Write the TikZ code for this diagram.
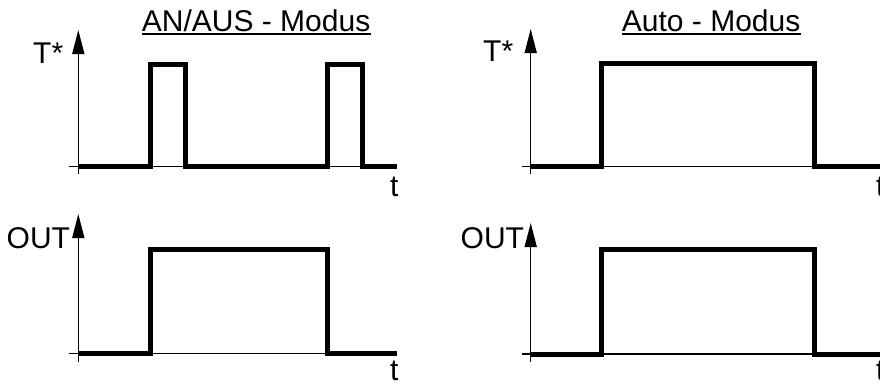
\documentclass[tikz,border=0pt]{standalone}
\usepackage{fontspec}
\setmainfont{Liberation Sans}
\usetikzlibrary{arrows.meta}
\begin{document}
\begin{tikzpicture}[x=1pt,y=-1pt,
  axis/.style={line width=1.5pt},
  yaxis/.style={line width=1.5pt,-{Triangle[length=24pt,width=12pt]}},
  signal/.style={line width=5pt,line join=miter},
  lbl/.style={inner sep=0pt,anchor=base west,font=\fontsize{30}{36}\selectfont},
  uline/.style={line width=2pt}
]
\useasboundingbox (0,0) rectangle (880,383);
% titles
\node[lbl] (ti1) at (141.7,31.7) {AN/AUS - Modus};
\draw[uline] ([yshift=-2pt]ti1.base west) -- ([yshift=-2pt]ti1.base east);
\node[lbl] (ti2) at (621.7,31.7) {Auto - Modus};
\draw[uline] ([yshift=-2pt]ti2.base west) -- ([yshift=-2pt]ti2.base east);

% top-left
\draw[axis] (69.3,166.7) -- (397,166.7);
\draw[yaxis] (78.3,174) -- (78.3,30);
\draw[signal] (78.3,166.3) -- (150,166.3) -- (150,64.5) -- (185,64.5) -- (185,166.3) -- (327.5,166.3) -- (327.5,64.5) -- (362.5,64.5) -- (362.5,166.3) -- (397,166.3);
\node[lbl] (la) at (33,63.3) {T*};
\node[lbl] (ta) at (390,196) {t};

% top-right
\draw[axis] (521.7,166.7) -- (880,166.7);
\draw[yaxis] (530.7,174) -- (530.7,29);
\draw[signal] (530.7,166.3) -- (601.5,166.3) -- (601.5,63.5) -- (814,63.5) -- (814,166.3) -- (885,166.3);
\node[lbl] (lb) at (483,61) {T*};
\node[lbl] (tb) at (876,196) {t};

% bottom-left
\draw[axis] (69.3,353.3) -- (397,353.3);
\draw[yaxis] (78.3,361.7) -- (78.3,214);
\draw[signal] (78.3,353.3) -- (150,353.3) -- (150,249) -- (327.5,249) -- (327.5,353.3) -- (397,353.3);
\node[lbl] (lc) at (6.5,248) {OUT};
\node[lbl] (tc) at (390,380.5) {t};

% bottom-right
\draw[axis] (521.7,354) -- (880,354);
\draw[yaxis] (530.7,362) -- (530.7,223);
\draw[signal] (530.7,354) -- (601.5,354) -- (601.5,249) -- (814,249) -- (814,354) -- (885,354);
\node[lbl] (ld) at (460.5,248) {OUT};
\node[lbl] (td) at (876,380.5) {t};
\end{tikzpicture}
\end{document}
